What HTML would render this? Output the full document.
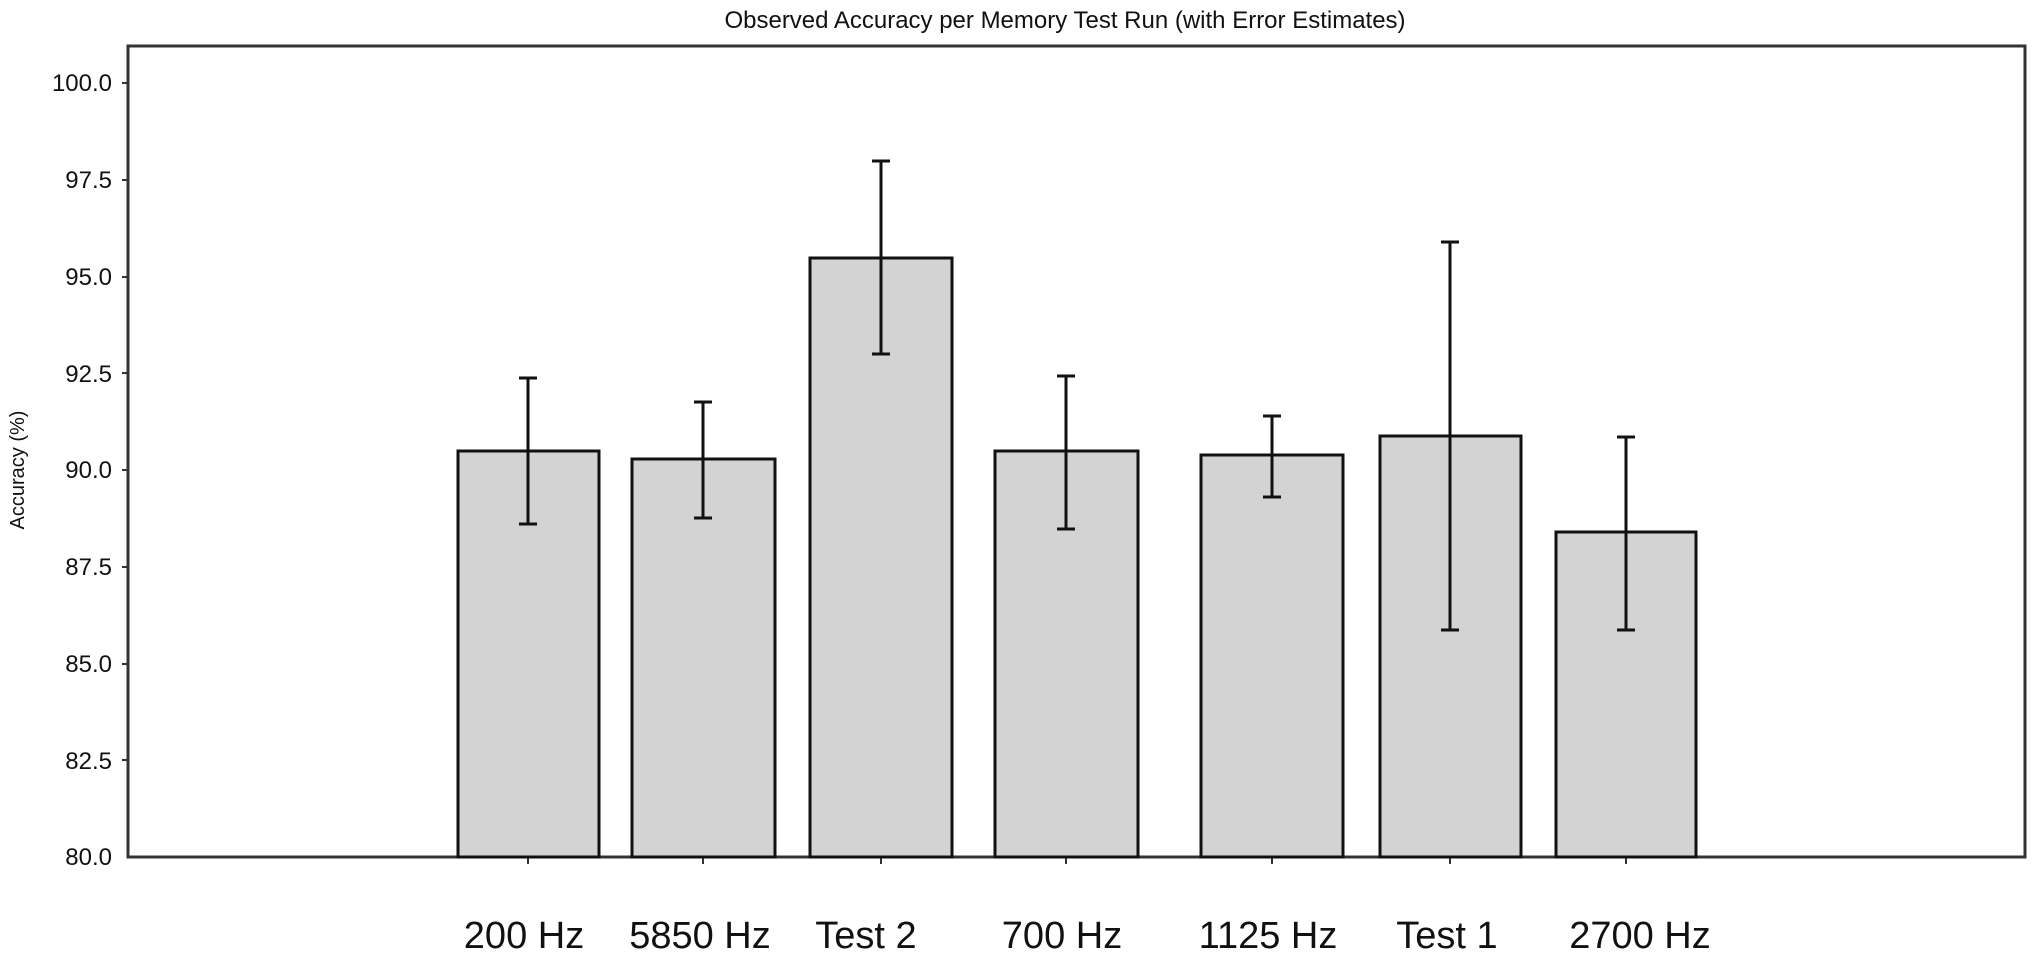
<!DOCTYPE html>
<html><head><meta charset="utf-8"><style>
html,body{margin:0;padding:0;background:#fff;}
svg{display:block;}
</style></head><body>
<svg width="2036" height="960" viewBox="0 0 2036 960" xmlns="http://www.w3.org/2000/svg" font-family="Liberation Sans, DejaVu Sans, sans-serif">
<text x="1065" y="28" font-size="24" text-anchor="middle" fill="#111">Observed Accuracy per Memory Test Run (with Error Estimates)</text>
<rect x="128" y="46" width="1897" height="811" fill="none" stroke="#333" stroke-width="3"/>
<g font-size="24" fill="#111" text-anchor="end">
<text x="112" y="91">100.0</text>
<text x="112" y="188">97.5</text>
<text x="112" y="285">95.0</text>
<text x="112" y="382">92.5</text>
<text x="112" y="478">90.0</text>
<text x="112" y="575">87.5</text>
<text x="112" y="672">85.0</text>
<text x="112" y="769">82.5</text>
<text x="112" y="865">80.0</text>
</g>
<g stroke="#333" stroke-width="2">
<line x1="122" y1="83" x2="128" y2="83"/><line x1="122" y1="180" x2="128" y2="180"/>
<line x1="122" y1="277" x2="128" y2="277"/><line x1="122" y1="373" x2="128" y2="373"/>
<line x1="122" y1="470" x2="128" y2="470"/><line x1="122" y1="567" x2="128" y2="567"/>
<line x1="122" y1="664" x2="128" y2="664"/><line x1="122" y1="760" x2="128" y2="760"/>
<line x1="528" y1="857" x2="528" y2="864"/><line x1="703" y1="857" x2="703" y2="864"/>
<line x1="881" y1="857" x2="881" y2="864"/><line x1="1066" y1="857" x2="1066" y2="864"/>
<line x1="1272" y1="857" x2="1272" y2="864"/><line x1="1450" y1="857" x2="1450" y2="864"/>
<line x1="1626" y1="857" x2="1626" y2="864"/>
</g>
<text transform="translate(24,470) rotate(-90)" font-size="20" text-anchor="middle" fill="#111">Accuracy (%)</text>
<g fill="#d3d3d3" stroke="#111" stroke-width="3">
<rect x="458" y="451" width="141" height="406"/>
<rect x="632" y="459" width="143" height="398"/>
<rect x="810" y="258" width="142" height="599"/>
<rect x="995" y="451" width="143" height="406"/>
<rect x="1201" y="455" width="142" height="402"/>
<rect x="1380" y="436" width="141" height="421"/>
<rect x="1556" y="532" width="140" height="325"/>
</g>
<g stroke="#111" stroke-width="3">
<line x1="528" y1="378" x2="528" y2="524"/><line x1="519" y1="378" x2="537" y2="378"/><line x1="519" y1="524" x2="537" y2="524"/>
<line x1="703" y1="402" x2="703" y2="518"/><line x1="694" y1="402" x2="712" y2="402"/><line x1="694" y1="518" x2="712" y2="518"/>
<line x1="881" y1="161" x2="881" y2="354"/><line x1="872" y1="161" x2="890" y2="161"/><line x1="872" y1="354" x2="890" y2="354"/>
<line x1="1066" y1="376" x2="1066" y2="529"/><line x1="1057" y1="376" x2="1075" y2="376"/><line x1="1057" y1="529" x2="1075" y2="529"/>
<line x1="1272" y1="416" x2="1272" y2="497"/><line x1="1263" y1="416" x2="1281" y2="416"/><line x1="1263" y1="497" x2="1281" y2="497"/>
<line x1="1450" y1="242" x2="1450" y2="630"/><line x1="1441" y1="242" x2="1459" y2="242"/><line x1="1441" y1="630" x2="1459" y2="630"/>
<line x1="1626" y1="437" x2="1626" y2="630"/><line x1="1617" y1="437" x2="1635" y2="437"/><line x1="1617" y1="630" x2="1635" y2="630"/>
</g>
<g font-size="38" fill="#111" text-anchor="middle">
<text x="524" y="948">200 Hz</text>
<text x="700" y="948">5850 Hz</text>
<text x="866" y="948">Test 2</text>
<text x="1062" y="948">700 Hz</text>
<text x="1268" y="948">1125 Hz</text>
<text x="1447" y="948">Test 1</text>
<text x="1640" y="948">2700 Hz</text>
</g>
</svg>
</body></html>
